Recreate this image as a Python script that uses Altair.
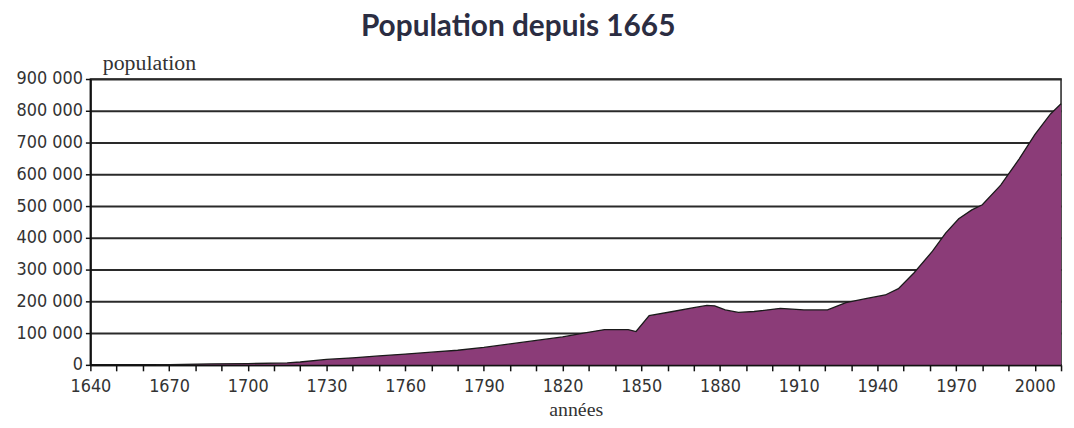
import altair as alt
import pandas as pd

years = [1665, 1686, 1700, 1715, 1720, 1730, 1740, 1750, 1760, 1770, 1780, 1790,
         1800, 1810, 1820, 1828, 1836, 1845, 1848, 1853, 1862, 1870, 1875, 1878,
         1882, 1887, 1893, 1903, 1912, 1921, 1928, 1936, 1943, 1948, 1954, 1961,
         1966, 1971, 1976, 1980, 1987, 1994, 2000, 2006, 2010]
population = [0, 3000, 4000, 6000, 9000, 17000, 22000, 28000, 34000, 40000, 46000, 55000,
              66000, 77000, 88000, 100000, 111000, 111000, 105000, 155000, 168000, 180000, 187000, 186000,
              173000, 165000, 168000, 178000, 173000, 173000, 196000, 209000, 220000, 240000, 290000, 358000,
              415000, 460000, 488000, 504000, 566000, 648000, 725000, 790000, 822000]

x_ticks = list(range(1640, 2011, 10))
y_ticks = list(range(0, 900001, 100000))

df = pd.DataFrame({"annee": years, "population": population})

label_font = "DejaVu Sans Condensed, Liberation Sans Narrow, Roboto, sans-serif"
serif_font = "Liberation Serif, DejaVu Serif, serif"

chart = alt.Chart(df).mark_area(
    color="#8B3C78",
    opacity=1,
    line={"color": "#1a1a1a", "strokeWidth": 1.3},
    interpolate="linear",
).encode(
    x=alt.X("annee:Q",
            scale=alt.Scale(domain=[1640, 2010], nice=False, zero=False),
            axis=alt.Axis(values=x_ticks, title="années",
                          labelExpr="(datum.value - 1640) % 30 == 0 ? format(datum.value, 'd') : ''",
                          labelFlush=False, labelOverlap=False,
                          grid=False, domainColor="#111", domainWidth=2,
                          tickColor="#111", tickWidth=1.5, tickSize=6,
                          labelFont=label_font, labelFontSize=18, labelColor="#333",
                          labelPadding=7,
                          titleFont=serif_font, titleFontSize=20, titleFontWeight="normal",
                          titleColor="#333", titlePadding=4)),
    y=alt.Y("population:Q",
            scale=alt.Scale(domain=[0, 900000], nice=False),
            axis=alt.Axis(values=y_ticks, title="population",
                          labelExpr="datum.value == 0 ? '0' : format(datum.value / 1000, 'd') + ' 000'",
                          labelFlush=False, labelOverlap=False,
                          grid=True, gridColor="#2a2a2a", gridWidth=2,
                          domainColor="#111", domainWidth=2,
                          tickColor="#111", tickWidth=1.5, tickSize=5,
                          labelFont=label_font, labelFontSize=18, labelColor="#333",
                          labelPadding=3,
                          titleFont=serif_font, titleFontSize=22, titleFontWeight="normal",
                          titleColor="#333", titleAngle=0, titleAlign="left",
                          titleBaseline="bottom", titleX=12, titleY=-5)),
).properties(
    width=978,
    height=288,
    title=alt.TitleParams("Population depuis 1665", font="Lato, Open Sans, sans-serif",
                          fontSize=30, fontWeight="bold", color="#2b2d42",
                          anchor="middle", frame="group", dx=-58, offset=9),
    autosize=alt.AutoSizeParams(type="none"),
    padding={"left": 83, "top": 70, "right": 5, "bottom": 54},
).configure_view(stroke="#222", strokeWidth=1.5)

chart.save("out.html", embed_options={"renderer": "svg", "actions": False})
